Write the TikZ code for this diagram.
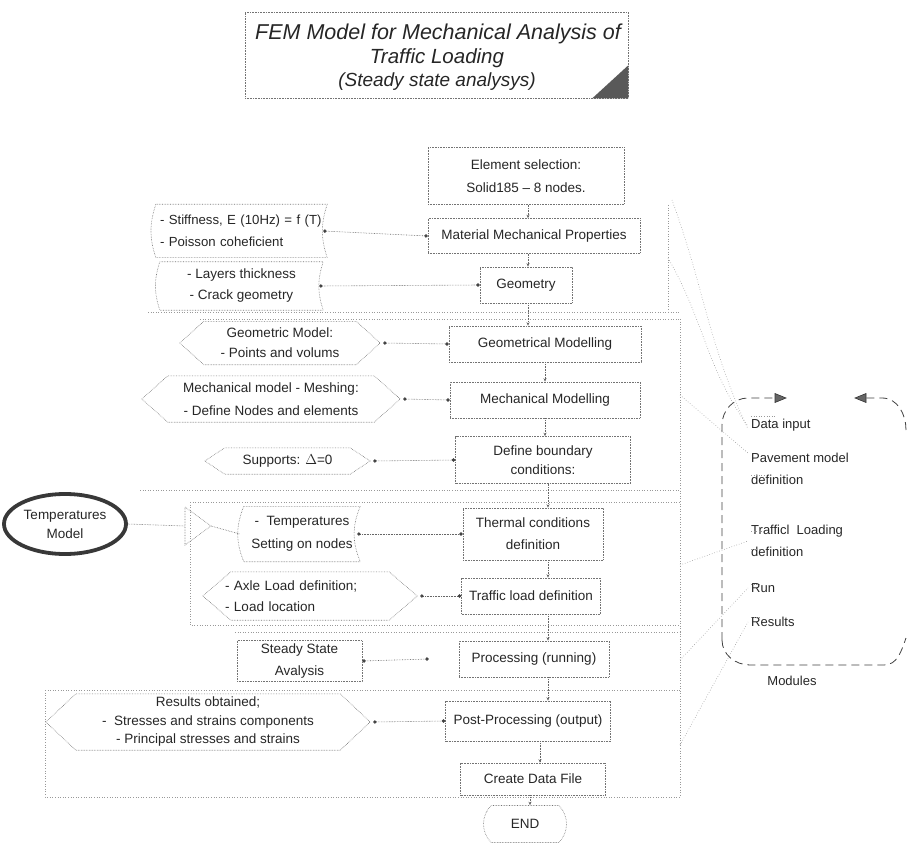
\documentclass[tikz,border=0pt]{standalone}
\usepackage{fontspec}
\setmainfont{Liberation Sans}
\usetikzlibrary{shapes.geometric,shapes.misc,arrows.meta}
\newcommand\hexshape[2]{\draw[outl] (#1.west) -- ([xshift=#2]#1.north west) -- ([xshift=-#2]#1.north east) -- (#1.east) -- ([xshift=-#2]#1.south east) -- ([xshift=#2]#1.south west) -- cycle;}
\newcommand\storedshape[2]{\draw[outl] (#1.north west) to[bend right=#2] (#1.south west) -- (#1.south east) to[bend left=#2] (#1.north east) -- cycle;}
\begin{document}
\begin{tikzpicture}[x=1pt,y=-1pt,
  every node/.style={font=\fontsize{13.5}{21}\selectfont, text=black!85},
  box/.style={draw=black!55, densely dotted, line width=0.6pt, inner sep=0pt, align=center},
  ghost/.style={inner sep=0pt, align=center},
  outl/.style={draw=black!55, densely dotted, line width=0.6pt},
  conn/.style={draw=black!60, densely dotted, line width=0.6pt},
  vconn/.style={conn, -{Stealth[length=3.5pt,width=3pt]}},
  hconn/.style={conn, {Circle[length=3.4pt,black!75]}-{Circle[length=3.4pt,black!75]}},
  grp/.style={draw=black!40, dotted, line width=0.6pt},
  modline/.style={draw=black!75, dash pattern=on 8pt off 5pt, line width=0.8pt},
  modtip/.style={draw=black!80, fill=black!60, line width=0.6pt},
  modlab/.style={inner sep=0pt, anchor=west, align=left, font=\fontsize{13}{22}\selectfont},
]
\useasboundingbox (0,0) rectangle (910,850);

% ---------- title ----------
\node[box, minimum width=383, minimum height=86] (T) at (436.5,55) {};
\fill[black!65] (T.south east) -- ++(0,-33) -- ++(-36,33) -- cycle;
\node[ghost, font=\fontsize{21.5}{24}\selectfont\itshape] (t1) at (438,34) {FEM Model for Mechanical Analysis of};
\node[ghost, font=\fontsize{20.5}{24}\selectfont\itshape] (t2) at (437,58) {Traffic Loading};
\node[ghost, font=\fontsize{19}{20}\selectfont\itshape] (t3) at (437,82) {(Steady state analysys)};

% ---------- group outlines ----------
\draw[grp] (148,312) -- (680,312);
\draw[grp] (200,319) -- (680,319);
\draw[grp] (140,490) -- (680,490);
\draw[grp] (190,502) -- (680,502) ;
\draw[grp] (190,502) -- (190,625) -- (680,625);
\draw[grp] (235,632) -- (680,632);
\draw[grp] (45,690) -- (680,690);
\draw[grp] (45,690) -- (45,797) -- (680,797);
\draw[grp] (668,205) -- (668,312);
\draw[grp] (680,319) -- (680,797);

% ---------- centre column ----------
\node[box, minimum width=196, minimum height=57, font=\fontsize{13.5}{23}\selectfont] (E1) at (526,176) {Element selection:\\Solid185 -- 8 nodes.};
\node[box, minimum width=212, minimum height=35] (E2) at (534,236) {Material Mechanical Properties};
\node[box, minimum width=92, minimum height=36] (E3) at (526,285) {Geometry};
\node[box, minimum width=192, minimum height=36] (E4) at (545,344) {Geometrical Modelling};
\node[box, minimum width=190, minimum height=36] (E5) at (545,400) {Mechanical Modelling};
\node[box, minimum width=175, minimum height=47, font=\fontsize{13.5}{18.5}\selectfont] (E6) at (543,460) {Define boundary\\conditions:};
\node[box, minimum width=140, minimum height=52, font=\fontsize{13.5}{22}\selectfont] (E7) at (533,534) {Thermal conditions\\definition};
\node[box, minimum width=139, minimum height=36] (E8) at (531,596) {Traffic load definition};
\node[box, minimum width=150, minimum height=36] (E9) at (534,659) {Processing (running)};
\node[box, minimum width=165, minimum height=40] (E10) at (528,721) {Post-Processing (output)};
\node[box, minimum width=145, minimum height=32] (E11) at (533,779) {Create Data File};
\node[box, rounded rectangle, rounded rectangle arc length=90, minimum width=83, minimum height=37] (E12) at (525,824) {END};

\coordinate (c1) at (528,0);
\coordinate (c2) at (540,0);
\coordinate (c3) at (545,0);
\coordinate (c4) at (548,0);
\coordinate (c5) at (530,0);
\draw[vconn] (E1.south -| c1) -- (E2.north -| c1);
\draw[vconn] (E2.south -| c1) -- (E3.north -| c1);
\draw[vconn] (E3.south -| c1) -- (E4.north -| c1);
\draw[vconn] (E4.south -| c3) -- (E5.north -| c3);
\draw[vconn] (E5.south -| c3) -- (E6.north -| c3);
\draw[vconn] (E6.south -| c4) -- (E7.north -| c4);
\draw[vconn] (E7.south -| c4) -- (E8.north -| c4);
\draw[vconn] (E8.south -| c4) -- (E9.north -| c4);
\draw[vconn] (E9.south -| c4) -- (E10.north -| c4);
\draw[vconn] (E10.south -| c2) -- (E11.north -| c2);
\draw[vconn] (E11.south -| c5) -- (E12.north -| c5);

% ---------- left column ----------
\node[ghost, minimum height=53, text width=163, inner xsep=4, align=left, font=\fontsize{13.2}{22}\selectfont] (L1) at (241.5,231) {- Stiffness, E (10Hz) = f (T)\\- Poisson coheficient};
\storedshape{L1}{18}
\node[ghost, minimum width=163, minimum height=48] (L2) at (241.5,286) {- Layers thickness\\- Crack geometry};
\storedshape{L2}{18}
\node[ghost, minimum width=200, minimum height=43, font=\fontsize{13.5}{20}\selectfont] (L3) at (280,343) {Geometric Model:\\- Points and volums};
\hexshape{L3}{24}
\node[ghost, minimum width=258, minimum height=46, font=\fontsize{13.5}{23}\selectfont] (L4) at (271,399) {Mechanical model - Meshing:\\- Define Nodes and elements};
\hexshape{L4}{26}
\node[ghost, minimum width=165, minimum height=26] (L5) at (287.5,461) {Supports: $\Delta$=0};
\hexshape{L5}{20}
\node[ghost, minimum width=116, minimum height=55, font=\fontsize{13.5}{23}\selectfont] (L6) at (302,534) {-\ \ Temperatures\\Setting on nodes};
\storedshape{L6}{22}
\node[ghost, minimum height=48, text width=170, inner xsep=22, align=left] (L7) at (310,596) {- Axle Load definition;\\- Load location};
\hexshape{L7}{28}
\node[box, minimum width=125, minimum height=41, font=\fontsize{13.5}{22}\selectfont] (L8) at (299.5,661) {Steady State\\Avalysis};
\node[ghost, minimum width=324, minimum height=56, font=\fontsize{13.5}{18.5}\selectfont] (L9) at (208,722) {Results obtained;\\-\ \ Stresses and strains components\\- Principal stresses and strains};
\hexshape{L9}{30}

\draw[hconn] ([xshift=-4]L1.east) -- (E2.west);
\draw[hconn] ([xshift=-4]L2.east) -- (E3.west);
\draw[hconn] ([xshift=3]L3.east) -- (E4.west);
\draw[hconn] ([xshift=3]L4.east) -- (E5.west);
\draw[hconn] ([xshift=3]L5.east) -- (E6.west);
\draw[hconn] ([xshift=-3]L6.east) -- (E7.west);
\draw[hconn] ([xshift=3]L7.east) -- (E8.west);
\draw[hconn] (L8.east) -- ([xshift=-30]E9.west);
\draw[hconn] ([xshift=3]L9.east) -- (E10.west);

% ---------- temperatures model ----------
\node[ellipse, draw=black!78, line width=3.8pt, minimum width=122, minimum height=60, inner sep=0, align=center, font=\fontsize{13.5}{19}\selectfont] (TM) at (65,524) {Temperatures\\Model};
\coordinate (trA) at (185,507);
\coordinate (trB) at (185,526);
\coordinate (trC) at (211,526);
\coordinate (trD) at (185,545);
\draw[outl] (trA) -- (trC) -- (trD) -- cycle;
\draw[conn] (TM.east) -- (trB);
\draw[conn] (trC) -- ([xshift=-4]L6.west);

% ---------- modules ----------
\coordinate (mA) at (775,398);
\coordinate (mB) at (866,398);
\draw[modline] (722,640) -- (722,425) to[out=90,in=180] (748,398) -- (mA);
\draw[modtip] (mA) -- ++(0,-4.5) -- ++(11,4.5) -- ++(-11,4.5) -- cycle;
\draw[modline] (906,430) to[out=90,in=0] (882,398) -- (mB);
\draw[modtip] (mB) -- ++(0,-4.5) -- ++(-11,4.5) -- ++(11,4.5) -- cycle;
\draw[modline] (722,640) to[out=-90,in=180] (750,665) -- (884,665) to[out=0,in=-110] (906,638);

\node[modlab] (M1) at (751,425) {Data input};
\node[modlab] (M2) at (751,469) {Pavement model\\definition};
\node[modlab] (M3) at (751,541) {Trafficl\ \ Loading\\definition};
\node[modlab] (M4) at (751,588) {Run};
\node[modlab] (M5) at (751,622) {Results};
\node[ghost, font=\fontsize{13}{15}\selectfont] (M6) at (792,681) {Modules};

\draw[grp] ([yshift=15]M1.south west) -- ++(24,0);
\draw[grp] ([yshift=10]M2.south west) -- ++(14,0);
\draw[grp] ([yshift=-6]M3.north west) -- ++(12,0);
\draw[grp] ([yshift=8]M3.south west) -- ++(8,0);
\draw[grp] ([yshift=8]M4.south west) -- ++(8,0);
\draw[grp] ([yshift=10]M5.south west) -- ++(8,0);

\coordinate (gA1) at (672,200);
\coordinate (gA2) at (668,258);
\coordinate (gB) at (680,395);
\coordinate (gC) at (680,565);
\coordinate (gD) at (680,660);
\coordinate (gE) at (680,745);
\draw[grp] (gA1) to[out=-70,in=115] ([xshift=-3,yshift=-4]M1.west);
\draw[grp] (gA2) to[out=-60,in=125] ([xshift=-4]M1.west);
\draw[grp] (gB) -- ([xshift=-3]M2.north west);
\draw[grp] (gC) -- ([xshift=-3]M3.west);
\draw[grp] (gD) -- ([xshift=-3]M4.west);
\draw[grp] (gE) -- ([xshift=-3]M5.west);
\end{tikzpicture}
\end{document}
